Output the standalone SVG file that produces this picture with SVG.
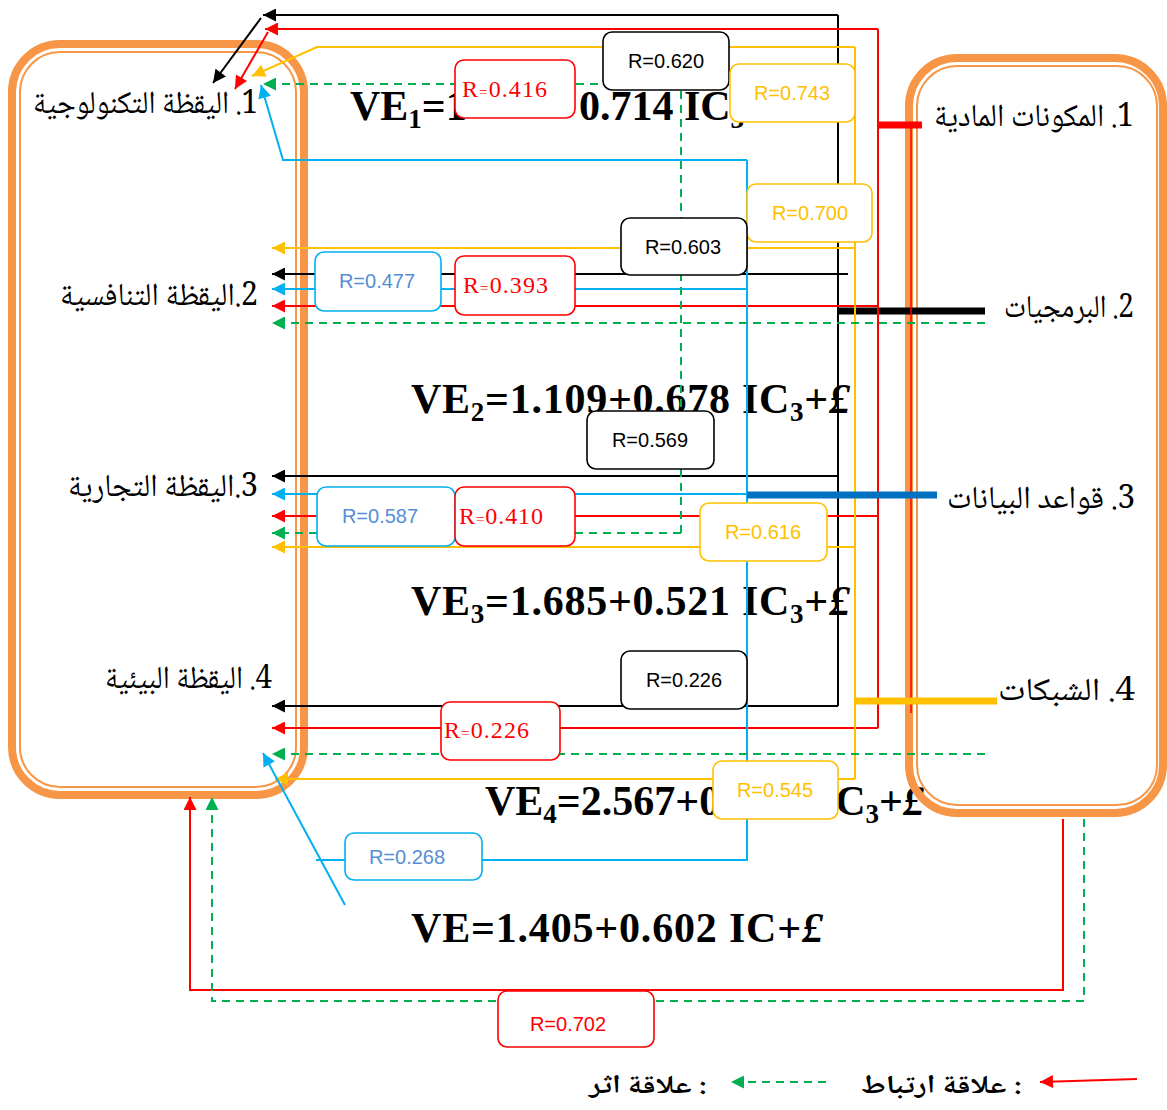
<svg xmlns="http://www.w3.org/2000/svg" width="1167" height="1110" viewBox="0 0 1167 1110">
<style>
.ln{fill:none;stroke-width:2}
.k{stroke:#000}.r{stroke:#FF0000}.y{stroke:#FFC000}.b{stroke:#00B0F0}.g{stroke:#00B050;stroke-dasharray:8 6}
.bar{stroke-width:7;fill:none}
.box{fill:#fff;stroke-width:1.6}
.sans{font-family:'Liberation Sans',Arial,sans-serif;font-size:20px;text-anchor:middle}
.serif{font-family:'Liberation Serif','Times New Roman',serif;font-size:24px;fill:#FF0000}
.eq{font-family:'Liberation Serif','Times New Roman',serif;font-weight:bold;font-size:42px;fill:#000}
.ar{font-family:'Noto Naskh Arabic','Amiri','Noto Sans Arabic','DejaVu Sans',sans-serif;font-size:32px;fill:#000}
.arb{font-family:'Noto Naskh Arabic','Amiri','Noto Sans Arabic','DejaVu Sans',sans-serif;font-size:26px;font-weight:bold;fill:#000}
.org{fill:none;stroke:#F79646}
</style>
<defs>
<marker id="ak" viewBox="0 0 10 10" refX="10" refY="5" markerWidth="14" markerHeight="13" markerUnits="userSpaceOnUse" orient="auto"><path d="M0,0L10,5L0,10z" fill="#000"/></marker>
<marker id="ar" viewBox="0 0 10 10" refX="10" refY="5" markerWidth="14" markerHeight="13" markerUnits="userSpaceOnUse" orient="auto"><path d="M0,0L10,5L0,10z" fill="#FF0000"/></marker>
<marker id="ay" viewBox="0 0 10 10" refX="10" refY="5" markerWidth="14" markerHeight="13" markerUnits="userSpaceOnUse" orient="auto"><path d="M0,0L10,5L0,10z" fill="#FFC000"/></marker>
<marker id="ab" viewBox="0 0 10 10" refX="10" refY="5" markerWidth="14" markerHeight="13" markerUnits="userSpaceOnUse" orient="auto"><path d="M0,0L10,5L0,10z" fill="#00B0F0"/></marker>
<marker id="ag" viewBox="0 0 10 10" refX="10" refY="5" markerWidth="14" markerHeight="13" markerUnits="userSpaceOnUse" orient="auto"><path d="M0,0L10,5L0,10z" fill="#00B050"/></marker>
</defs>
<rect width="1167" height="1110" fill="#fff"/>

<g id="equations">
<text class="eq" x="350" y="120">VE<tspan font-size="27" dy="8">1</tspan><tspan dy="-8">=1</tspan></text>
<text class="eq" x="789" y="120" text-anchor="end">0.714 IC<tspan font-size="27" dy="8">3</tspan><tspan dy="-8">+</tspan><tspan font-style="italic">£</tspan></text>
<text class="eq" x="411" y="413" textLength="439">VE<tspan font-size="27" dy="8">2</tspan><tspan dy="-8">=1.109+0.678 IC</tspan><tspan font-size="27" dy="8">3</tspan><tspan dy="-8">+</tspan><tspan font-style="italic">£</tspan></text>
<text class="eq" x="411" y="615" textLength="439">VE<tspan font-size="27" dy="8">3</tspan><tspan dy="-8">=1.685+0.521 IC</tspan><tspan font-size="27" dy="8">3</tspan><tspan dy="-8">+</tspan><tspan font-style="italic">£</tspan></text>
<text class="eq" x="485" y="815">VE<tspan font-size="27" dy="8">4</tspan><tspan dy="-8">=2.567+0</tspan></text>
<text class="eq" x="924" y="815" text-anchor="end">C<tspan font-size="27" dy="8">3</tspan><tspan dy="-8">+</tspan><tspan font-style="italic">£</tspan></text>
<text class="eq" x="411" y="942" textLength="412">VE=1.405+0.602 IC+<tspan font-style="italic">£</tspan></text>
</g>

<g id="node-left">
<rect class="org" x="12" y="44" width="292" height="751" rx="48" stroke-width="8"/>
<rect class="org" x="20" y="52" width="276" height="735" rx="40" stroke-width="2"/>
<text class="ar" x="258" y="113" direction="rtl" text-anchor="start" textLength="225" lengthAdjust="spacingAndGlyphs">1. اليقظة التكنولوجية</text>
<text class="ar" x="258" y="305" direction="rtl" text-anchor="start" textLength="198" lengthAdjust="spacingAndGlyphs">2.اليقظة التنافسية</text>
<text class="ar" x="258" y="496" direction="rtl" text-anchor="start" textLength="190" lengthAdjust="spacingAndGlyphs">3.اليقظة التجارية</text>
<text class="ar" x="272" y="688" direction="rtl" text-anchor="start" textLength="167" lengthAdjust="spacingAndGlyphs">4. اليقظة البيئية</text>
</g>

<g id="node-right">
<rect class="org" x="909" y="58" width="254" height="755" rx="48" stroke-width="8"/>
<rect class="org" x="917" y="66" width="240" height="739" rx="40" stroke-width="2"/>
<text class="ar" x="1134" y="126" direction="rtl" text-anchor="start" textLength="200" lengthAdjust="spacingAndGlyphs">1. المكونات المادية</text>
<text class="ar" x="1134" y="317" direction="rtl" text-anchor="start" textLength="130" lengthAdjust="spacingAndGlyphs">2. البرمجيات</text>
<text class="ar" x="1135" y="508" direction="rtl" text-anchor="start" textLength="188" lengthAdjust="spacingAndGlyphs">3. قواعد البيانات</text>
<text class="ar" x="1135" y="700" direction="rtl" text-anchor="start" textLength="137" lengthAdjust="spacingAndGlyphs">4. الشبكات</text>
</g>

<g id="connectors">
<!-- black -->
<path class="ln k" d="M838,15 V706"/>
<path class="ln k" d="M838,15 H263" marker-end="url(#ak)"/>
<path class="ln k" d="M261,18 L213,83" marker-end="url(#ak)"/>
<path class="ln k" d="M848,274 H272" marker-end="url(#ak)"/>
<path class="ln k" d="M838,476 H272" marker-end="url(#ak)"/>
<path class="ln k" d="M838,706 H272" marker-end="url(#ak)"/>
<path class="bar" stroke="#000" d="M838,311 H985"/>
<!-- red -->
<path class="ln r" d="M878,29 V728"/>
<path class="ln r" d="M878,29 H265" marker-end="url(#ar)"/>
<path class="ln r" d="M268,32 L235,89" marker-end="url(#ar)"/>
<path class="ln r" d="M878,306 H272" marker-end="url(#ar)"/>
<path class="ln r" d="M878,516 H272" marker-end="url(#ar)"/>
<path class="ln r" d="M878,728 H272" marker-end="url(#ar)"/>
<path class="bar" stroke="#FF0000" d="M878,125 H922"/>
<path fill="none" stroke="#FF0000" stroke-width="1.5" d="M911,128 V713"/>
<path class="ln r" d="M1063,819 V990 H190 V797" marker-end="url(#ar)"/>
<!-- yellow -->
<path class="ln y" d="M855,47 V779"/>
<path class="ln y" d="M855,47 H317 L252,76" marker-end="url(#ay)"/>
<path class="ln y" d="M855,248 H272" marker-end="url(#ay)"/>
<path class="ln y" d="M855,547 H272" marker-end="url(#ay)"/>
<path class="ln y" d="M855,779 H275" marker-end="url(#ay)"/>
<path class="bar" stroke="#FFC000" d="M855,701 H997"/>
<!-- blue -->
<path class="ln b" d="M747,160 V860 H316"/>
<path class="ln b" d="M747,160 H283 L261,85" marker-end="url(#ab)"/>
<path class="ln b" d="M747,289 H272" marker-end="url(#ab)"/>
<path class="ln b" d="M747,494 H272" marker-end="url(#ab)"/>
<path class="ln b" d="M345,905 L263,753" marker-end="url(#ab)"/>
<path class="bar" stroke="#0070C0" d="M747,495 H937"/>
<!-- green dashed -->
<path class="ln g" d="M681,533 V84 H263" marker-end="url(#ag)"/>
<path class="ln g" d="M681,533 H272" marker-end="url(#ag)"/>
<path class="ln g" d="M985,323 H272" marker-end="url(#ag)"/>
<path class="ln g" d="M985,754 H272" marker-end="url(#ag)"/>
<path class="ln g" d="M1084,819 V1001 H212 V797" marker-end="url(#ag)"/>
</g>

<g id="labels">
<rect class="box" stroke="#FF0000" x="455" y="60" width="120" height="58" rx="9"/>
<text class="serif" x="462" y="97" textLength="85">R<tspan font-size="15">=</tspan>0.416</text>
<rect class="box" stroke="#000" x="603" y="32" width="126" height="58" rx="9"/>
<text class="sans" x="666" y="68">R=0.620</text>
<rect class="box" stroke="#FFC000" x="730" y="64" width="125" height="58" rx="9"/>
<text class="sans" x="792" y="100" fill="#FFC000">R=0.743</text>
<rect class="box" stroke="#FFC000" x="747" y="184" width="125" height="58" rx="9"/>
<text class="sans" x="810" y="220" fill="#FFC000">R=0.700</text>
<rect class="box" stroke="#000" x="621" y="218" width="126" height="57" rx="9"/>
<text class="sans" x="683" y="254">R=0.603</text>
<rect class="box" stroke="#00B0F0" x="315" y="252" width="126" height="59" rx="9"/>
<text class="sans" x="377" y="288" fill="#558ED5">R=0.477</text>
<rect class="box" stroke="#FF0000" x="455" y="256" width="120" height="59" rx="9"/>
<text class="serif" x="463" y="293" textLength="85">R<tspan font-size="15">=</tspan>0.393</text>
<rect class="box" stroke="#000" x="587" y="411" width="127" height="58" rx="9"/>
<text class="sans" x="650" y="447">R=0.569</text>
<rect class="box" stroke="#00B0F0" x="317" y="487" width="138" height="59" rx="9"/>
<text class="sans" x="380" y="523" fill="#558ED5">R=0.587</text>
<rect class="box" stroke="#FF0000" x="455" y="487" width="120" height="59" rx="9"/>
<text class="serif" x="459" y="524" textLength="84">R<tspan font-size="15">=</tspan>0.410</text>
<rect class="box" stroke="#FFC000" x="700" y="503" width="127" height="58" rx="9"/>
<text class="sans" x="763" y="539" fill="#FFC000">R=0.616</text>
<rect class="box" stroke="#000" x="621" y="651" width="126" height="58" rx="9"/>
<text class="sans" x="684" y="687">R=0.226</text>
<rect class="box" stroke="#FF0000" x="441" y="702" width="119" height="58" rx="9"/>
<text class="serif" x="444" y="738" textLength="85">R<tspan font-size="15">=</tspan>0.226</text>
<rect class="box" stroke="#FFC000" x="713" y="761" width="125" height="58" rx="9"/>
<text class="sans" x="775" y="797" fill="#FFC000">R=0.545</text>
<rect class="box" stroke="#00B0F0" x="345" y="833" width="137" height="47" rx="9"/>
<text class="sans" x="407" y="864" fill="#558ED5">R=0.268</text>
<rect class="box" stroke="#FF0000" x="498" y="991" width="156" height="56" rx="9"/>
<text class="sans" x="568" y="1031" fill="#FF0000" font-size="24">R=0.702</text>
</g>

<g id="legend">
<path class="ln r" d="M1137,1079 L1040,1082" marker-end="url(#ar)"/>
<text class="arb" x="1022" y="1093" direction="rtl" text-anchor="start" textLength="161" lengthAdjust="spacingAndGlyphs">: علاقة ارتباط</text>
<path class="ln g" d="M826,1082 H731" marker-end="url(#ag)"/>
<text class="arb" x="707" y="1093" direction="rtl" text-anchor="start" textLength="118" lengthAdjust="spacingAndGlyphs">: علاقة اثر</text>
</g>
</svg>
